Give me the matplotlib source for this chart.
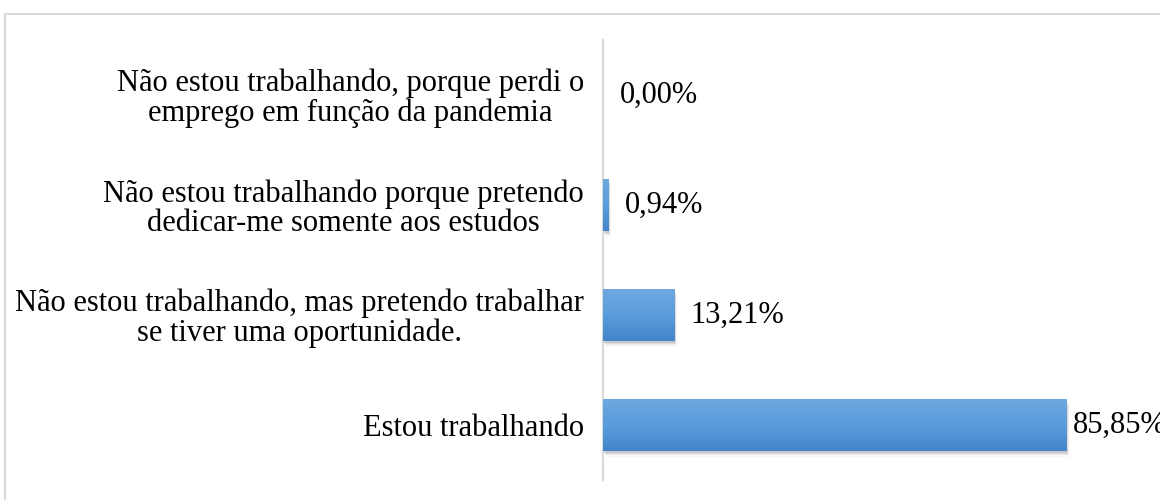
import numpy as np
import matplotlib.pyplot as plt
from matplotlib.patches import Rectangle
from matplotlib.colors import LinearSegmentedColormap

categories = [
    "Estou trabalhando",
    "Não estou trabalhando, mas pretendo trabalhar\nse tiver uma oportunidade.",
    "Não estou trabalhando porque pretendo\ndedicar-me somente aos estudos",
    "Não estou trabalhando, porque perdi o\nemprego em função da pandemia",
]
values = [85.85, 13.21, 0.94, 0.00]
value_labels = ["85,85%", "13,21%", "0,94%", "0,00%"]

plt.rcParams['font.family'] = ['Liberation Serif', 'DejaVu Serif']

fig = plt.figure(figsize=(11.6, 5), dpi=100)
ax = fig.add_axes([0.52, 0.04, 0.4655, 0.88])

# moldura cinza em volta do gráfico
fig.patches.append(Rectangle((0.0043, -0.1), 1.2, 1.072, transform=fig.transFigure,
                             fill=False, edgecolor='#d9d9d9', linewidth=1.5))

y = np.arange(len(categories))
bars = ax.barh(y, values, height=0.47, color='#5b9bd5', zorder=3)

grad = LinearSegmentedColormap.from_list('g', ['#4385c8', '#5a9cdc', '#6ea8de'])
for b in bars:
    x0, y0 = b.get_x(), b.get_y()
    w, h = b.get_width(), b.get_height()
    if w <= 0:
        continue
    # sombra
    for k, a in enumerate([0.12, 0.09, 0.06, 0.04]):
        d = 0.012 * (k + 1)
        ax.add_patch(Rectangle((x0 + 0.12 * (k + 1), y0 - d - 0.005), w, h, facecolor='#404040',
                               edgecolor='none', alpha=a, zorder=2))
    # gradiente
    ax.imshow(np.linspace(0, 1, 64).reshape(-1, 1), cmap=grad, aspect='auto',
              extent=(x0, x0 + w, y0, y0 + h), origin='lower', zorder=4)

for v, lab, yy in zip(values, value_labels, y):
    off = 1.1 if v > 80 else 3.0
    ax.text(v + off, yy, lab, va='center', ha='left',
            fontsize=22, color='black', clip_on=False)

ax.set_xlim(0, 100)
ax.set_ylim(-0.5, 3.5)
ax.set_yticks(y)
ax.set_yticklabels(categories, fontsize=22, color='black')
for t in ax.get_yticklabels():
    t.set_multialignment('center')
    t.set_linespacing(1.0)
ax.tick_params(axis='y', length=0, pad=14)
ax.set_xticks([])
for s in ['top', 'right', 'bottom']:
    ax.spines[s].set_visible(False)
ax.spines['left'].set_color('#d9d9d9')
ax.spines['left'].set_linewidth(1.5)

fig.savefig('out.png', dpi=100)
